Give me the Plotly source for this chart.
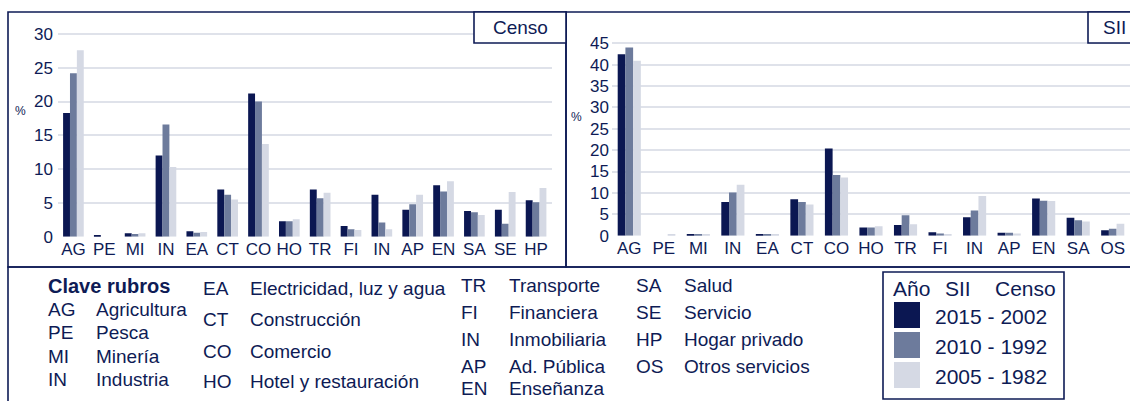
import plotly.graph_objects as go

W, H = 1130, 401

# ---------------- data ----------------
censo_codes = ["AG", "PE", "MI", "IN", "EA", "CT", "CO", "HO", "TR", "FI", "IN", "AP", "EN", "SA", "SE", "HP"]
censo_2002 = [18.3, 0.2, 0.5, 12.0, 0.8, 7.0, 21.2, 2.3, 7.0, 1.6, 6.2, 4.0, 7.6, 3.8, 4.0, 5.4]
censo_1992 = [24.2, 0.0, 0.4, 16.6, 0.6, 6.2, 20.0, 2.3, 5.7, 1.1, 2.1, 4.8, 6.7, 3.6, 1.9, 5.1]
censo_1982 = [27.6, 0.0, 0.5, 10.3, 0.7, 5.5, 13.7, 2.6, 6.5, 1.0, 1.1, 6.2, 8.2, 3.2, 6.6, 7.2]

sii_codes = ["AG", "PE", "MI", "IN", "EA", "CT", "CO", "HO", "TR", "FI", "IN", "AP", "EN", "SA", "OS"]
sii_2015 = [42.4, 0.0, 0.4, 7.9, 0.4, 8.5, 20.4, 1.9, 2.5, 0.8, 4.3, 0.7, 8.7, 4.2, 1.3]
sii_2010 = [44.0, 0.0, 0.4, 10.1, 0.4, 7.9, 14.2, 1.9, 4.8, 0.5, 5.9, 0.7, 8.2, 3.6, 1.6]
sii_2005 = [40.9, 0.3, 0.3, 11.9, 0.3, 7.3, 13.6, 2.2, 2.7, 0.3, 9.3, 0.5, 8.1, 3.3, 2.8]

censo_ticks = [0, 5, 10, 15, 20, 25, 30]
sii_ticks = [0, 5, 10, 15, 20, 25, 30, 35, 40, 45]

series_labels = ["2015 - 2002", "2010 - 1992", "2005 - 1982"]

key_col1 = [("AG", "Agricultura"), ("PE", "Pesca"), ("MI", "Minería"), ("IN", "Industria")]
key_col2 = [("EA", "Electricidad, luz y agua"), ("CT", "Construcción"), ("CO", "Comercio"),
            ("HO", "Hotel y restauración")]
key_col3 = [("TR", "Transporte"), ("FI", "Financiera"), ("IN", "Inmobiliaria"), ("AP", "Ad. Pública"),
            ("EN", "Enseñanza")]
key_col4 = [("SA", "Salud"), ("SE", "Servicio"), ("HP", "Hogar privado"), ("OS", "Otros servicios")]

# ---------------- style ----------------
NAVY = "#0e1b55"
COLORS = ["#0b1752", "#6d7b9c", "#d5d9e4"]
GRID = "#dfe2ea"
FONT = "Liberation Sans, Arial, sans-serif"


def px(x):
    return x / W


def py(y):
    return 1 - y / H


fig = go.Figure()

censo_x = list(range(len(censo_codes)))
sii_x = list(range(len(sii_codes)))

for vals, col, name in zip([censo_2002, censo_1992, censo_1982], COLORS, series_labels):
    fig.add_trace(go.Bar(x=censo_x, y=vals, marker=dict(color=col, line=dict(width=0)),
                         name=name, xaxis="x", yaxis="y", showlegend=False))
for vals, col, name in zip([sii_2015, sii_2010, sii_2005], COLORS, series_labels):
    fig.add_trace(go.Bar(x=sii_x, y=vals, marker=dict(color=col, line=dict(width=0)),
                         name=name, xaxis="x2", yaxis="y2", showlegend=False))

tickfont = dict(family=FONT, size=17, color=NAVY)

fig.update_layout(
    width=W, height=H,
    margin=dict(l=0, r=0, t=0, b=0, autoexpand=False),
    paper_bgcolor="white", plot_bgcolor="white",
    barmode="group", bargap=0.33, bargroupgap=0,
    showlegend=False,
    font=dict(family=FONT, color=NAVY),
    xaxis=dict(domain=[px(58), px(551.5)], range=[-0.5, len(censo_codes) - 0.5],
               tickmode="array", tickvals=censo_x, ticktext=censo_codes,
               showgrid=False, zeroline=False, showline=False, ticks="",
               tickfont=tickfont, anchor="y", automargin=False),
    yaxis=dict(domain=[py(236.7), py(13)], range=[0, 33.1],
               tickmode="array", tickvals=censo_ticks,
               showgrid=True, gridcolor=GRID, gridwidth=1.6, zeroline=False,
               showline=False, ticks="", tickfont=tickfont, anchor="x",
               ticklabelstandoff=4, automargin=False),
    xaxis2=dict(domain=[px(612), 1.0], range=[-0.5, len(sii_codes) - 0.5],
                tickmode="array", tickvals=sii_x, ticktext=sii_codes,
                showgrid=False, zeroline=False, showline=False, ticks="",
                tickfont=tickfont, anchor="y2", automargin=False),
    yaxis2=dict(domain=[py(235.7), py(12)], range=[0, 52.3],
                tickmode="array", tickvals=sii_ticks,
                showgrid=True, gridcolor=GRID, gridwidth=1.6, zeroline=False,
                showline=False, ticks="", tickfont=tickfont, anchor="x2",
                ticklabelstandoff=2, automargin=False),
)

shapes = []
line = dict(color=NAVY, width=1.6)
# panel frames
shapes.append(dict(type="rect", xref="paper", yref="paper", x0=px(8), x1=px(566), y0=py(267), y1=py(12),
                   line=line, fillcolor="rgba(0,0,0,0)", layer="above"))
shapes.append(dict(type="rect", xref="paper", yref="paper", x0=px(566), x1=px(1140), y0=py(267), y1=py(12),
                   line=line, fillcolor="rgba(0,0,0,0)", layer="above"))
shapes.append(dict(type="rect", xref="paper", yref="paper", x0=px(8), x1=px(1140), y0=py(410), y1=py(267),
                   line=line, fillcolor="rgba(0,0,0,0)", layer="above"))
# panel title boxes
shapes.append(dict(type="rect", xref="paper", yref="paper", x0=px(474), x1=px(566), y0=py(43), y1=py(12),
                   line=line, fillcolor="white", layer="above"))
shapes.append(dict(type="rect", xref="paper", yref="paper", x0=px(1088), x1=px(1140), y0=py(43), y1=py(12),
                   line=line, fillcolor="white", layer="above"))
# legend box
shapes.append(dict(type="rect", xref="paper", yref="paper", x0=px(883), x1=px(1064), y0=py(399), y1=py(272),
                   line=line, fillcolor="white", layer="above"))
sw_tops = [302, 332, 362]
for top, col in zip(sw_tops, COLORS):
    shapes.append(dict(type="rect", xref="paper", yref="paper", x0=px(894), x1=px(920),
                       y0=py(top + 26), y1=py(top), line=dict(width=0), fillcolor=col, layer="above"))
fig.update_layout(shapes=shapes)

ann = []


def text(x, y, s, size=19, bold=False, anchor="left"):
    ann.append(dict(xref="paper", yref="paper", x=px(x), y=py(y), text=f"<b>{s}</b>" if bold else s,
                    showarrow=False, xanchor=anchor, yanchor="middle",
                    font=dict(family=FONT, size=size, color=NAVY)))


text(520, 28, "Censo", 19, anchor="center")
text(1114, 28, "SII", 19, anchor="center")
text(20, 111, "%", 12, anchor="center")
text(576, 117, "%", 12, anchor="center")

text(46, 286, "Clave rubros", 20, bold=True)
for (code, name), yy in zip(key_col1, [309, 332, 356, 379]):
    text(46, yy, code)
    text(94, yy, name)
for (code, name), yy in zip(key_col2, [288, 319, 351, 381]):
    text(201, yy, code)
    text(248, yy, name)
for (code, name), yy in zip(key_col3, [285, 312, 339, 366, 388]):
    text(459, yy, code)
    text(507, yy, name)
for (code, name), yy in zip(key_col4, [285, 312, 339, 366]):
    text(634, yy, code)
    text(682, yy, name)

text(891, 288, "Año", 21)
text(943, 288, "SII", 21)
text(993, 288, "Censo", 21)
for lab, top in zip(series_labels, sw_tops):
    text(933, top + 14, lab, 21)

fig.update_layout(annotations=ann)

fig.write_html("out.html", config={"displayModeBar": False},
               post_script="document.body.style.margin='0';document.body.style.overflow='hidden';")
